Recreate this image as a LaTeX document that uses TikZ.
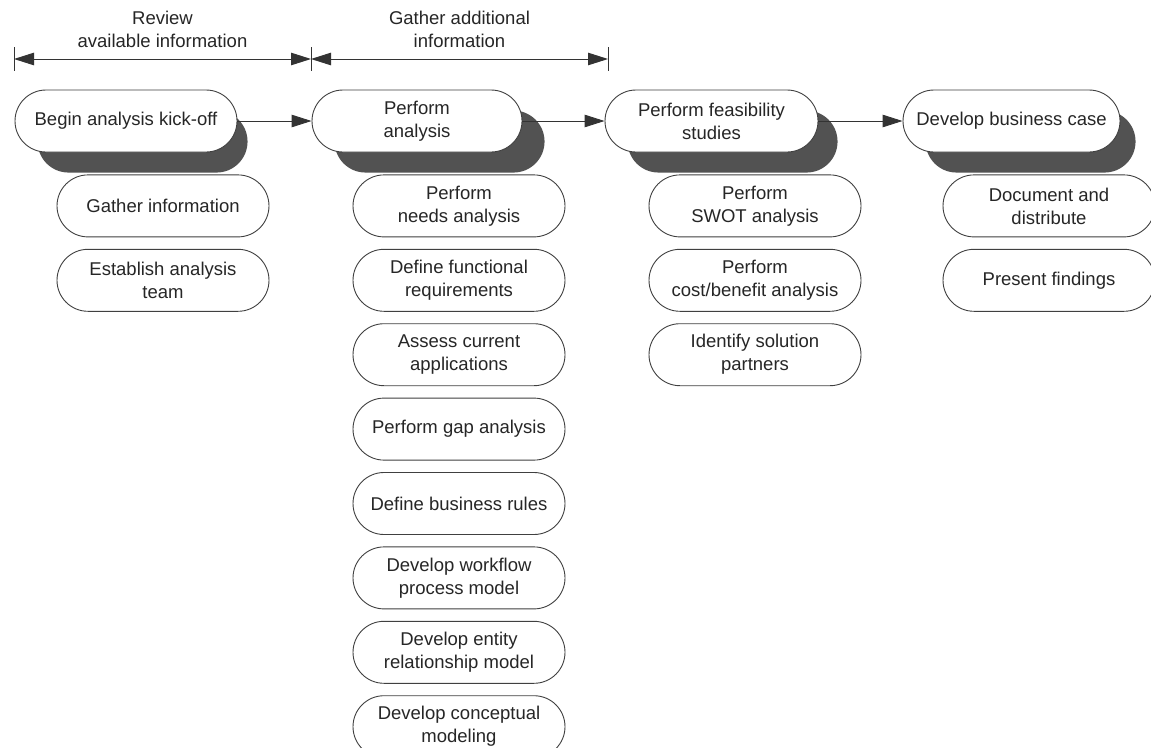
\documentclass[tikz,border=0pt]{standalone}
\usepackage{fontspec}
\setmainfont{Liberation Sans}
\usetikzlibrary{positioning,arrows.meta,backgrounds}

\tikzset{
  phase/.style={rectangle,rounded corners=31pt,draw=black!75,line width=0.9pt,fill=white,
    minimum width=210pt,minimum height=62pt,inner xsep=6pt,align=center,text=black!85},
  task/.style={phase,minimum width=212pt},
  blob/.style={fill=black!68,rounded corners=31pt},
}

\begin{document}
\begin{tikzpicture}[x=1pt,y=-1pt,font=\fontsize{18.5}{23}\selectfont,
    >={Triangle[length=20pt,width=12.5pt]},line width=0.9pt,draw=black!80]
    \useasboundingbox (0,0) rectangle (1151,747);

    % the four phases
    \node[phase,minimum width=222pt] (A) at (126,121) {Begin analysis kick-off};
    \node[phase] (B) at (417,121) {Perform\\analysis};
    \node[phase,minimum width=213pt] (C) at (711.5,121) {Perform feasibility\\studies};
    \node[phase,minimum width=217pt] (D) at (1011.5,121) {Develop business case};

    % tasks under each phase
    \node[task,below right=22pt and 42pt of A.south west] (A1) {Gather information};
    \node[task,below=11.5pt of A1] (A2) {Establish analysis\\team};

    \node[task,below right=22pt and 41pt of B.south west] (B1) {Perform\\needs analysis};
    \node[task,below=11.5pt of B1] (B2) {Define functional\\requirements};
    \node[task,below=11.5pt of B2] (B3) {Assess current\\applications};
    \node[task,below=11.5pt of B3] (B4) {Perform gap analysis};
    \node[task,below=11.5pt of B4] (B5) {Define business rules};
    \node[task,below=11.5pt of B5] (B6) {Develop workflow\\process model};
    \node[task,below=11.5pt of B6] (B7) {Develop entity\\relationship model};
    \node[task,below=11.5pt of B7] (B8) {Develop conceptual\\modeling};

    \node[task,below right=22pt and 44pt of C.south west] (C1) {Perform\\SWOT analysis};
    \node[task,below=11.5pt of C1] (C2) {Perform\\cost/benefit analysis};
    \node[task,below=11.5pt of C2] (C3) {Identify solution\\partners};

    \node[task,below right=22pt and 40pt of D.south west] (D1) {Document and\\distribute};
    \node[task,below=11.5pt of D1] (D2) {Present findings};

    % dark shadows behind the phases
    \begin{scope}[on background layer]
      \fill[white] (0,0) rectangle (1151,747);
      \foreach \n in {A,B,C,D}
        \fill[blob] ([xshift=23pt,yshift=-21pt]\n.north west) rectangle ++(210,62);
    \end{scope}

    \draw[->] (A) -- (B);
    \draw[->] (B) -- (C);
    \draw[->] (C) -- (D);

    % time spans on top
    \coordinate (r0) at (14,59);
    \coordinate (r1) at (311,59);
    \coordinate (r2) at (608,59);
    \draw[<->] (r0) -- (r1);
    \draw[<->] (r1) -- (r2);
    \foreach \c in {r0,r1,r2}
      \draw ([yshift=12pt]\c) -- ([yshift=-12pt]\c);
    \node[align=center,text=black!85] (rev) at (162.5,29) {Review\\available information};
    \node[align=center,text=black!85] (gat) at (459.5,29) {Gather additional\\information};
\end{tikzpicture}
\end{document}
